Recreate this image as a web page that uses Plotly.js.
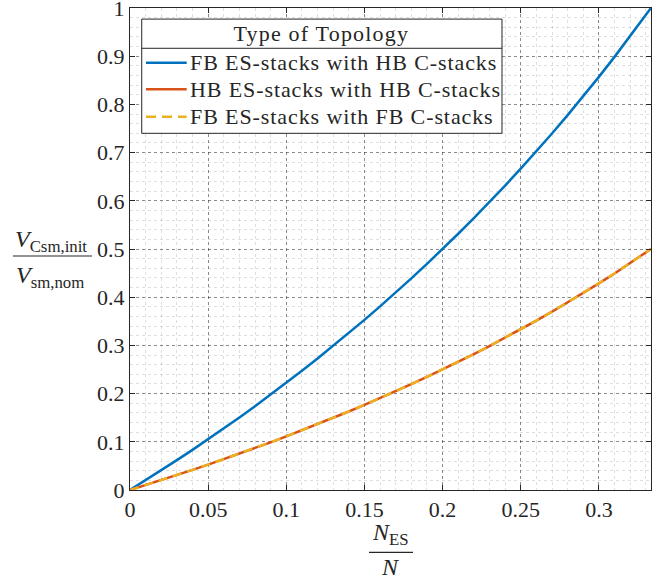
<!DOCTYPE html>
<html>
<head>
<meta charset="utf-8">
<script src="https://cdn.plot.ly/plotly-3.0.1.min.js"></script>
<style>html,body{margin:0;padding:0;background:#fff;}#chart{width:668px;height:582px;}</style>
</head>
<body>
<div id="chart"></div>
<script>
// Data
const ratioNES = [0, 0.01, 0.02, 0.03, 0.04, 0.05, 0.06, 0.07, 0.08, 0.09, 0.10, 0.11, 0.12, 0.13, 0.14, 0.15, 0.16, 0.17, 0.18, 0.19, 0.20, 0.21, 0.22, 0.23, 0.24, 0.25, 0.26, 0.27, 0.28, 0.29, 0.30, 0.31, 0.32, 0.33, 0.3333];
const fbHB = [0, 0.0202, 0.0408, 0.0619, 0.0833, 0.1053, 0.1277, 0.1505, 0.1739, 0.1978, 0.2222, 0.2472, 0.2727, 0.2989, 0.3256, 0.3529, 0.3810, 0.4096, 0.4390, 0.4691, 0.5000, 0.5316, 0.5641, 0.5974, 0.6316, 0.6667, 0.7027, 0.7397, 0.7778, 0.8169, 0.8571, 0.8986, 0.9412, 0.9851, 1.0000];
const hbHB = [0, 0.0101, 0.0204, 0.0309, 0.0417, 0.0526, 0.0638, 0.0753, 0.0870, 0.0989, 0.1111, 0.1236, 0.1364, 0.1494, 0.1628, 0.1765, 0.1905, 0.2048, 0.2195, 0.2346, 0.2500, 0.2658, 0.2821, 0.2987, 0.3158, 0.3333, 0.3514, 0.3699, 0.3889, 0.4085, 0.4286, 0.4493, 0.4706, 0.4925, 0.5000];
const fbFB = [0, 0.0101, 0.0204, 0.0309, 0.0417, 0.0526, 0.0638, 0.0753, 0.0870, 0.0989, 0.1111, 0.1236, 0.1364, 0.1494, 0.1628, 0.1765, 0.1905, 0.2048, 0.2195, 0.2346, 0.2500, 0.2658, 0.2821, 0.2987, 0.3158, 0.3333, 0.3514, 0.3699, 0.3889, 0.4085, 0.4286, 0.4493, 0.4706, 0.4925, 0.5000];
const seriesNames = ['FB ES-stacks with HB C-stacks', 'HB ES-stacks with HB C-stacks', 'FB ES-stacks with FB C-stacks'];
const legendTitle = 'Type of Topology';
const xTickVals = [0, 0.05, 0.1, 0.15, 0.2, 0.25, 0.3];
const yTickVals = [0, 0.1, 0.2, 0.3, 0.4, 0.5, 0.6, 0.7, 0.8, 0.9, 1];

const serif = '"Liberation Serif", "Times New Roman", serif';
const ink = '#262626';
const colors = ['#0072BD', '#D95319', '#EDB120'];
const dashes = ['solid', 'solid', '9px,6px'];

const traces = seriesNames.map(function(name, i){
  return {x: ratioNES, y: [fbHB, hbHB, fbFB][i], name: name, mode: 'lines', showlegend: false,
          line: {color: colors[i], width: 2.5, dash: dashes[i]}};
});

const axisCommon = {
  showline: true, mirror: 'ticks', linecolor: ink, linewidth: 1,
  ticks: 'inside', ticklen: 5, tickcolor: ink,
  showgrid: true, gridcolor: 'rgba(38,38,38,0.45)', griddash: 'dot', gridwidth: 1,
  zeroline: false, tickfont: {family: serif, size: 22, color: ink},
  ticklabeloverflow: 'allow'
};

// legend box (paper coordinates)
const lg = {x0: 0.0225, x1: 0.714, y0: 0.740, y1: 0.977, sep: 0.9164, titleY: 0.948,
            rows: [0.8865, 0.8313, 0.7745], lineX0: 0.0307, lineX1: 0.1088, textX: 0.1152};

const annotations = [
  {xref: 'paper', yref: 'paper', x: -0.1507, y: 0.5156, text: '<i>V</i><sub>Csm,init</sub>', showarrow: false,
   font: {family: serif, size: 24, color: ink}, xanchor: 'center', yanchor: 'middle'},
  {xref: 'paper', yref: 'paper', x: -0.1536, y: 0.4429, text: '<i>V</i><sub>sm,nom</sub>', showarrow: false,
   font: {family: serif, size: 24, color: ink}, xanchor: 'center', yanchor: 'middle'},
  {xref: 'paper', yref: 'paper', x: 0.5, y: -0.091, text: '<i>N</i><sub>ES</sub>', showarrow: false,
   font: {family: serif, size: 24, color: ink}, xanchor: 'center', yanchor: 'middle', borderpad: 0},
  {xref: 'paper', yref: 'paper', x: 0.5, y: -0.160, text: '<i>N</i>', showarrow: false,
   font: {family: serif, size: 24, color: ink}, xanchor: 'center', yanchor: 'middle'},
  {xref: 'paper', yref: 'paper', x: (lg.x0 + lg.x1) / 2, y: lg.titleY, text: legendTitle, showarrow: false,
   font: {family: serif, size: 22, color: ink}, xanchor: 'center', yanchor: 'middle'}
];
seriesNames.forEach(function(name, i){
  annotations.push({xref: 'paper', yref: 'paper', x: lg.textX, y: lg.rows[i], text: name, showarrow: false,
    font: {family: serif, size: 22, color: ink}, xanchor: 'left', yanchor: 'middle'});
});

const shapes = [
  {type: 'line', xref: 'paper', yref: 'paper', x0: -0.2246, x1: -0.0729, y0: 0.4855, y1: 0.4855, line: {color: ink, width: 1.2}},
  {type: 'line', xref: 'paper', yref: 'paper', x0: 0.4587, x1: 0.5432, y0: -0.1293, y1: -0.1293, line: {color: ink, width: 1.2}},
  {type: 'rect', xref: 'paper', yref: 'paper', layer: 'above', x0: lg.x0, x1: lg.x1, y0: lg.y0, y1: lg.y1,
   fillcolor: '#fff', line: {color: ink, width: 1}},
  {type: 'line', xref: 'paper', yref: 'paper', layer: 'above', x0: lg.x0, x1: lg.x1, y0: lg.sep, y1: lg.sep,
   line: {color: ink, width: 1}}
];
seriesNames.forEach(function(name, i){
  shapes.push({type: 'line', xref: 'paper', yref: 'paper', layer: 'above', x0: lg.lineX0, x1: lg.lineX1,
    y0: lg.rows[i], y1: lg.rows[i], line: {color: colors[i], width: 2.5, dash: dashes[i] === 'solid' ? 'solid' : '10px,6px'}});
});

const layout = {
  width: 668, height: 582,
  margin: {l: 130, r: 17, t: 8, b: 92},
  paper_bgcolor: '#fff', plot_bgcolor: '#fff',
  showlegend: false,
  font: {family: serif, color: ink},
  xaxis: Object.assign({}, axisCommon, {
    range: [0, 1/3], tickvals: xTickVals,
    minor: {dtick: 0.01, showgrid: true, gridcolor: 'rgba(38,38,38,0.15)', griddash: 'dot', gridwidth: 1}
  }),
  yaxis: Object.assign({}, axisCommon, {
    range: [0, 1], tickvals: yTickVals,
    minor: {dtick: 0.02, showgrid: true, gridcolor: 'rgba(38,38,38,0.15)', griddash: 'dot', gridwidth: 1}
  }),
  annotations: annotations,
  shapes: shapes
};

Plotly.newPlot('chart', traces, layout, {displayModeBar: false, staticPlot: true}).then(function(gd){
  // widen legend lettering slightly to match the reference's wider serif face,
  // keeping each entry's left edge where the layout put it
  const fl = gd._fullLayout;
  const svgLeft = gd.querySelector('.main-svg').getBoundingClientRect().left;
  const wantLeft = fl.margin.l + lg.textX * fl._size.w;
  gd.querySelectorAll('.annotation-text').forEach(function(el){
    const txt = el.textContent;
    if (txt === legendTitle) el.style.letterSpacing = '1.2px';
    if (seriesNames.indexOf(txt) >= 0) {
      el.style.letterSpacing = '0.9px';
      const left = el.getBoundingClientRect().left - svgLeft;
      const dx = wantLeft - left;
      el.setAttribute('x', parseFloat(el.getAttribute('x') || 0) + dx);
    }
  });
});
</script>
</body>
</html>
